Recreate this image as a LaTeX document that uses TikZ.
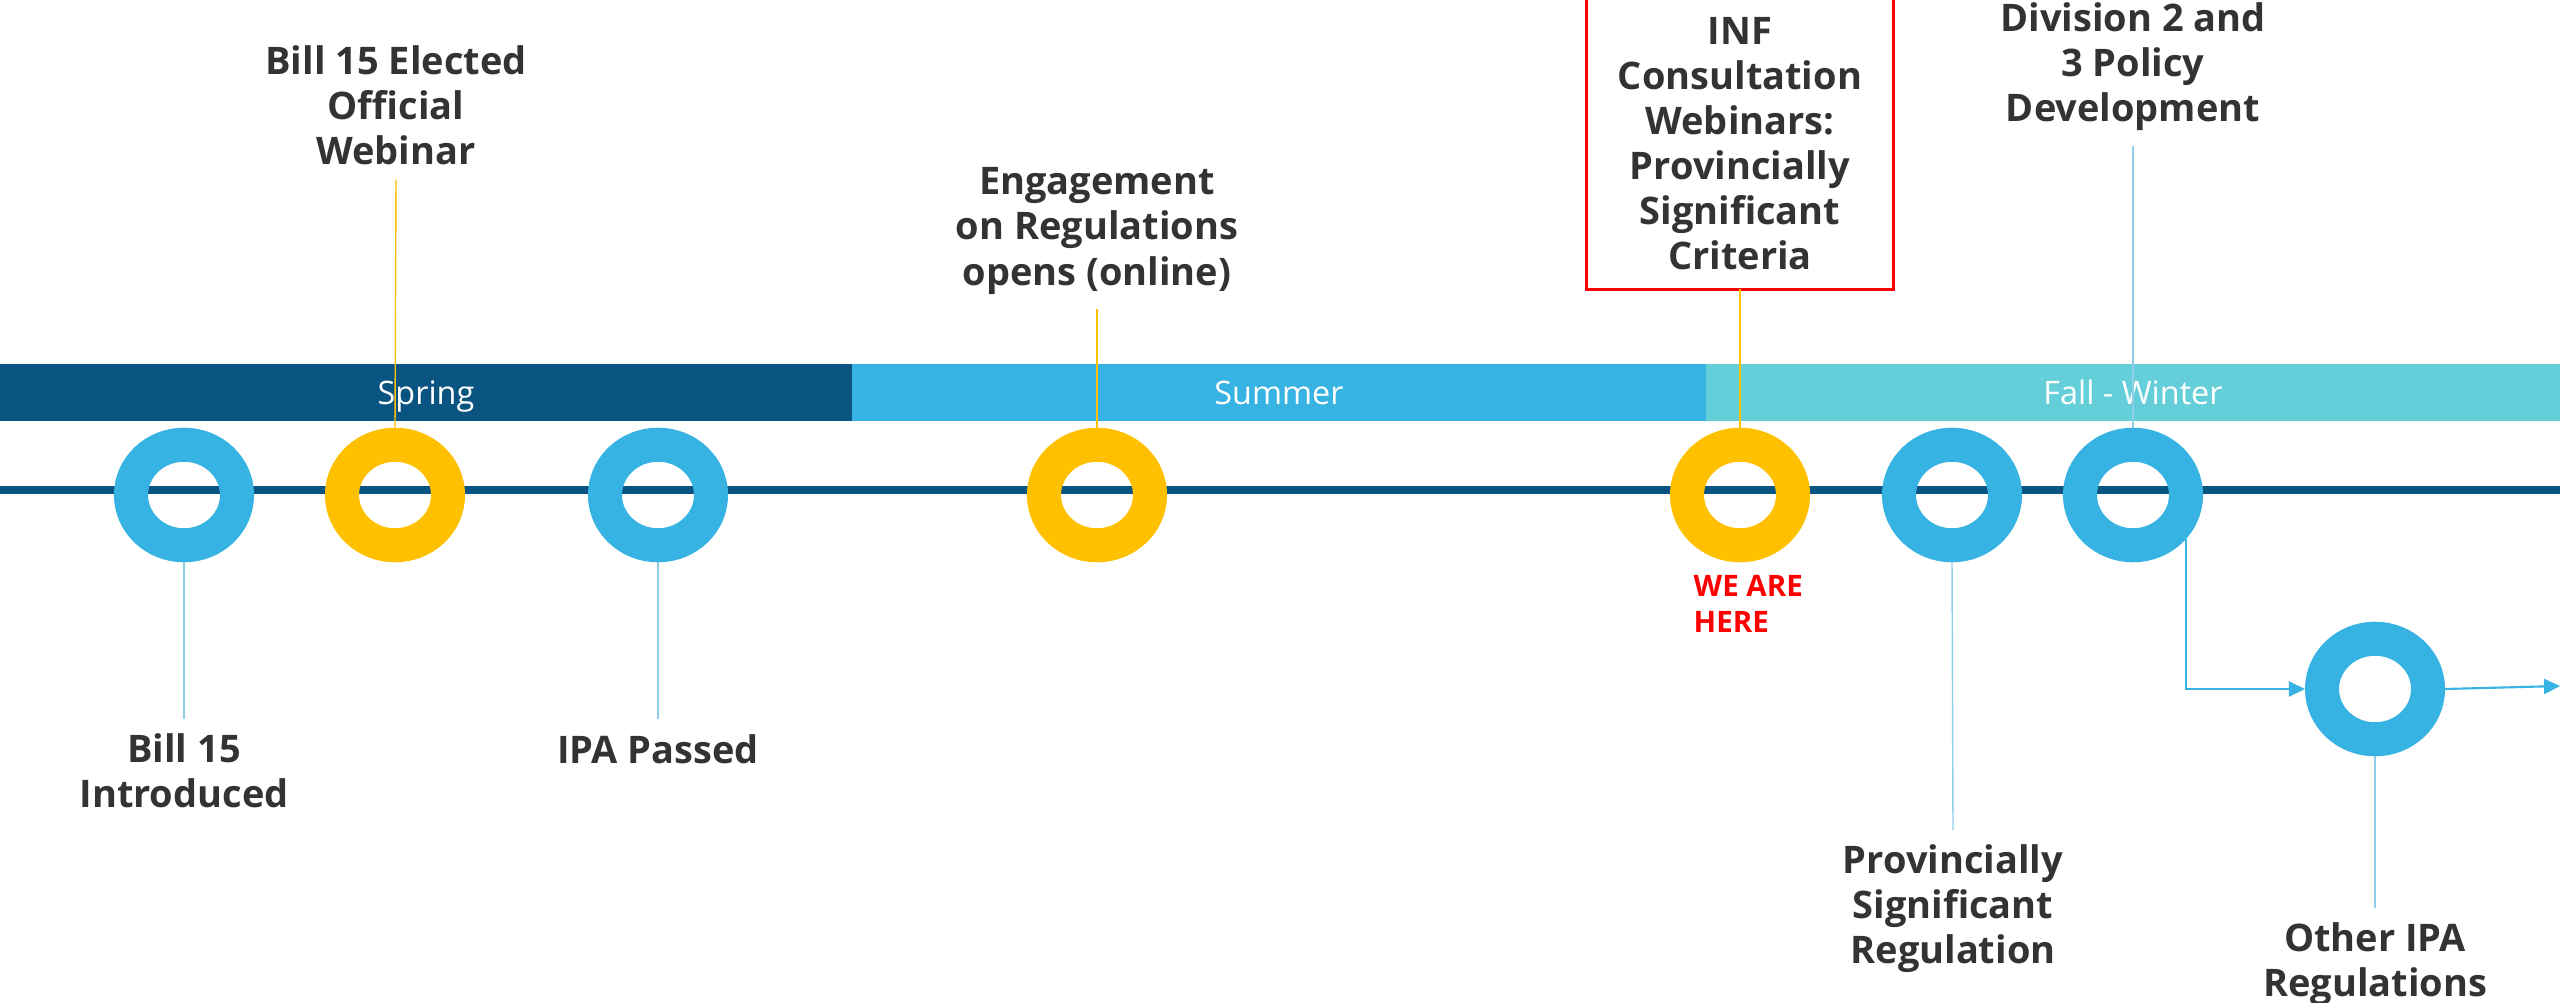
\documentclass[tikz,border=0pt]{standalone}
\usepackage{fontspec}
\setmainfont{Open Sans}
\usetikzlibrary{shapes.geometric,arrows.meta}
\definecolor{navy}{HTML}{0A5482}
\definecolor{sky}{HTML}{36B2E3}
\definecolor{aqua}{HTML}{65CFD9}
\definecolor{gold}{HTML}{FFC000}
\definecolor{ink}{HTML}{333333}
\definecolor{pale}{HTML}{8FCDEB}
\tikzset{
  season/.style={minimum width=8.54cm,minimum height=0.57cm,inner sep=0,text=white,text height=0.75em,text depth=0.05em,font=\fontsize{9.2}{11}\selectfont},
  ring/.style={ellipse,draw=#1,line width=0.34cm,minimum width=1.06cm,minimum height=1.005cm,inner sep=0},
  evtext/.style={align=center,text=ink,inner sep=0,outer sep=0.15cm,font=\bfseries\fontsize{10.8}{12.8}\selectfont},
  yline/.style={gold,line width=0.4pt},
  bline/.style={pale,line width=0.4pt},
  arr/.style={sky,line width=0.6pt,-{Triangle[length=0.16cm,width=0.15cm]}}
}
\begin{document}
\begin{tikzpicture}[x=0.01cm,y=-0.01cm]
\useasboundingbox (0,0) rectangle (2560,1003);
% seasons
\node[season,fill=navy] (spring) at (426,392.5) {Spring};
\node[season,fill=sky] (summer) at (1279,392.5) {Summer};
\node[season,fill=aqua] (fall) at (2133,392.5) {Fall - Winter};
% timeline
\draw[navy,line width=0.08cm] (0,490) -- (2560,490);
% events
\node[ring=sky] (c1) at (184,495) {};
\node[ring=gold] (c2) at (395,495) {};
\node[ring=sky] (c3) at (658,495) {};
\node[ring=gold] (c4) at (1097,495) {};
\node[ring=gold] (c5) at (1740,495) {};
\node[ring=sky] (c6) at (1952,495) {};
\node[ring=sky] (c7) at (2133,495) {};
\node[ring=sky] (c8) at (2375,689) {};
% texts above
\node[evtext] (webinar) at (396,105) {Bill 15 Elected\\Official\\Webinar};
\node[evtext] (engage) at (1097,231) {Engagement\\on Regulations\\opens (online)};
\node[evtext,draw=red,line width=0.03cm,outer sep=0,minimum width=3.07cm,minimum height=2.91cm] (inf) at (1740,143.5) {INF\\Consultation\\Webinars:\\Provincially\\Significant\\Criteria};
\node[evtext] (policy) at (2133,67) {Division 2 and\\3 Policy\\Development};
% texts below
\node[evtext] (intro) at (184,771) {Bill 15\\Introduced};
\node[evtext] (passed) at (658,749) {IPA Passed};
\node[evtext] (psreg) at (1953,909) {Provincially\\Significant\\Regulation};
\node[evtext] (other) at (2375,964) {Other IPA\\Regulations};
\node[anchor=west,align=left,inner sep=0,text=red,font=\bfseries\fontsize{8.4}{10.2}\selectfont] (here) at (1693,604) {WE ARE\\HERE};
% connectors
\draw[yline] (c2.north) -- (webinar.south);
\draw[yline] (c4.north) -- (engage.south);
\draw[yline] (c5.north) -- (inf.south);
\draw[bline] (c7.north) -- (policy.south);
\draw[bline] (c1.south) -- (intro.north);
\draw[bline] (c3.south) -- (passed.north);
\draw[bline] (c6.south) -- (psreg.north);
\draw[bline] (c8.south) -- (other.north);
\coordinate (tip) at (2560,686);
\draw[arr] (c7.-40) |- (c8.west);
\draw[arr] (c8.east) -- (tip);
\end{tikzpicture}
\end{document}
